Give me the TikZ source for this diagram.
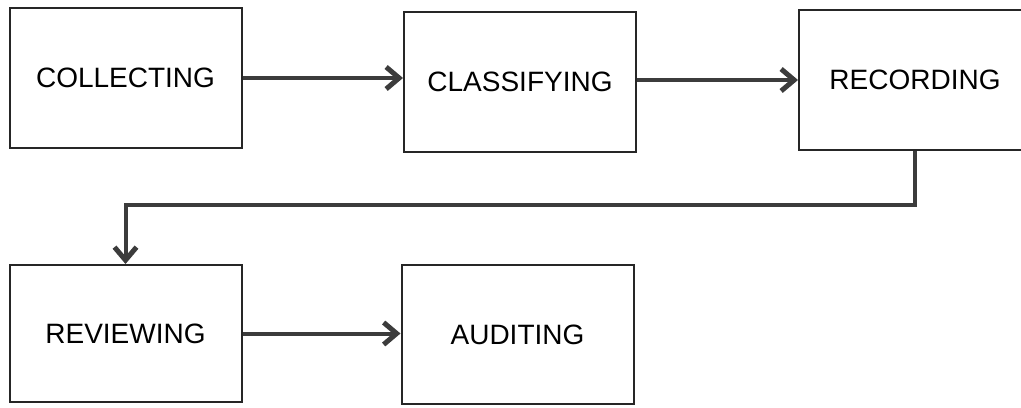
\documentclass[tikz,border=0pt]{standalone}
\usepackage{fontspec}
\setmainfont{Liberation Sans}
\usetikzlibrary{arrows.meta}

\definecolor{lineg}{HTML}{3C3C3C}

\tikzset{
  stage/.style={draw=black!85, line width=1pt, fill=white, minimum width=116pt,
    minimum height=70pt, inner sep=0pt, font=\fontsize{14}{17}\selectfont},
  flow/.style={draw=lineg, line width=2pt,
    -{Straight Barb[length=6.5pt,width=11pt,line width=2.5pt]}}
}

\begin{document}
\begin{tikzpicture}[x=0.5pt,y=-0.5pt]

\useasboundingbox (0,0) rectangle (1021,407);

\node[stage] (collect) at (125.5,78) {COLLECTING};
\node[stage] (classify) at (520,82) {CLASSIFYING};
\node[stage] (record) at (915,80) {RECORDING};
\node[stage, minimum height=68.5pt] (review) at (125.5,333.5) {REVIEWING};
\node[stage, minimum height=69.5pt] (audit) at (517.5,334.5) {AUDITING};

\coordinate (turn) at (0,205);

\path[flow] (collect.east) -- (collect.east -| classify.west);
\path[flow] (classify.east |- record.west) -- (record.west);
\path[flow] (record.south) |- (turn -| review.north) -- (review.north);
\path[flow] (review.east) -- (review.east -| audit.west);

\end{tikzpicture}
\end{document}
